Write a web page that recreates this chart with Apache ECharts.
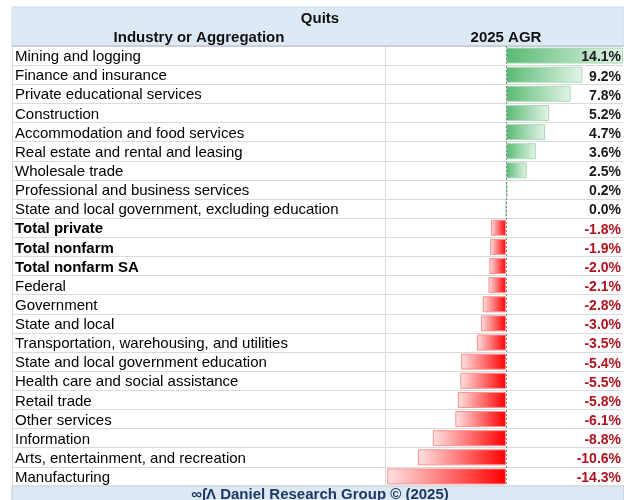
<!DOCTYPE html>
<html>
<head>
<meta charset="utf-8">
<script src="https://cdn.jsdelivr.net/npm/echarts@6/dist/echarts.min.js"></script>
<style>
  html, body { margin: 0; padding: 0; background: #fff; }
  #chart { width: 624px; height: 500px; }
</style>
</head>
<body>
<div id="chart"></div>
<script>
// industries, top to bottom
const industries = [
  'Mining and logging',
  'Finance and insurance',
  'Private educational services',
  'Construction',
  'Accommodation and food services',
  'Real estate and rental and leasing',
  'Wholesale trade',
  'Professional and business services',
  'State and local government, excluding education',
  'Total private',
  'Total nonfarm',
  'Total nonfarm SA',
  'Federal',
  'Government',
  'State and local',
  'Transportation, warehousing, and utilities',
  'State and local government education',
  'Health care and social assistance',
  'Retail trade',
  'Other services',
  'Information',
  'Arts, entertainment, and recreation',
  'Manufacturing'
]
// 2025 annual growth rate, %
const agr2025 = [14.1, 9.2, 7.8, 5.2, 4.7, 3.6, 2.5, 0.2, 0.0, -1.8, -1.9, -2.0, -2.1, -2.8, -3.0, -3.5, -5.4, -5.5, -5.8, -6.1, -8.8, -10.6, -14.3]
// rows written in bold
const boldRows = ['Total private', 'Total nonfarm', 'Total nonfarm SA']

const chart = echarts.init(document.getElementById('chart'))

const font = 'Liberation Sans, Arial, sans-serif'
const gridTop = 46
const gridHeight = 440
const gridLine = '#dadada'

// excel style data bars
const barData = agr2025.map(v => {
  const pos = v >= 0
  return {
    value: v,
    itemStyle: {
      color: new echarts.graphic.LinearGradient(0, 0, 1, 0, pos
        ? [{ offset: 0, color: '#58ba72' }, { offset: 1, color: '#e4f4e8' }]
        : [{ offset: 0, color: '#ffe3e3' }, { offset: 1, color: '#ff0000' }]),
      borderColor: pos ? '#a9dcb7' : '#ff8f8f',
      borderWidth: 1
    }
  }
})

const valStyle = { fontFamily: font, fontSize: 14, fontWeight: 'bold', padding: [4, 0, 0, 0] }

const option = {
  animation: false,
  backgroundColor: '#fff',
  graphic: [
    // header band
    { type: 'rect', shape: { x: 12, y: 7, width: 612, height: 39 }, style: { fill: '#dde9f5', stroke: '#cfdbe8', lineWidth: 1 }, z: -10 },
    // footer band
    { type: 'rect', shape: { x: 12, y: 486, width: 612, height: 16 }, style: { fill: '#dde9f5', stroke: '#b8c2cc', lineWidth: 1 }, z: -10 },
    // column separator
    { type: 'line', shape: { x1: 385.5, y1: 46, x2: 385.5, y2: 486 }, style: { stroke: gridLine, lineWidth: 1 }, z: 5 },
    { type: 'line', shape: { x1: 12, y1: 46, x2: 624, y2: 46 }, style: { stroke: '#b8c2cc', lineWidth: 1 }, z: 5 },
    {
      type: 'text', x: 320, y: 487, z: 10,
      style: { text: '∞∫Λ Daniel Research Group © (2025)', font: 'bold 15px ' + font, fill: '#1f3864', align: 'center' }
    }
  ],
  title: [
    { text: 'Quits', left: 315, top: 6, textAlign: 'center', textStyle: { fontFamily: font, fontSize: 15, fontWeight: 'bold', color: '#111' } },
    { text: 'Industry or Aggregation', left: 194, top: 25, textAlign: 'center', textStyle: { fontFamily: font, fontSize: 15, fontWeight: 'bold', color: '#111' } },
    { text: '2025 AGR', left: 501, top: 25, textAlign: 'center', textStyle: { fontFamily: font, fontSize: 15, fontWeight: 'bold', color: '#111' } }
  ],
  grid: [
    { left: 12, width: 374, top: gridTop, height: gridHeight },
    { left: 386, right: 0, top: gridTop, height: gridHeight }
  ],
  xAxis: [
    { gridIndex: 0, type: 'value', show: false, min: 0, max: 1 },
    { gridIndex: 1, type: 'value', show: false, min: -14.45, max: 14.1 }
  ],
  yAxis: [
    {
      gridIndex: 0, type: 'category', inverse: true, data: industries,
      axisLine: { show: true, lineStyle: { color: gridLine } },
      axisTick: { show: false },
      splitLine: { show: true, interval: 0, lineStyle: { color: gridLine } },
      axisLabel: {
        interval: 0, inside: true, margin: 3, align: 'left',
        verticalAlign: 'middle', lineHeight: 19, padding: [3, 0, 0, 0],
        fontFamily: font, fontSize: 15, color: '#000',
        formatter: v => boldRows.includes(v) ? '{b|' + v + '}' : v,
        rich: { b: { fontFamily: font, fontSize: 15, fontWeight: 'bold', color: '#000' } }
      }
    },
    {
      gridIndex: 1, type: 'category', inverse: true, data: industries,
      axisLine: { show: false },
      axisTick: { show: false },
      splitLine: { show: true, interval: 0, lineStyle: { color: gridLine } },
      axisLabel: { show: false }
    },
    {
      // value column on the right
      gridIndex: 1, type: 'category', inverse: true, data: industries, position: 'right',
      z: 10,
      axisLine: { show: false },
      axisTick: { show: false },
      axisLabel: {
        interval: 0, inside: true, margin: 2, align: 'right', verticalAlign: 'middle',
        formatter: (v, i) => (agr2025[i] < 0 ? '{neg|' : '{pos|') + agr2025[i].toFixed(1) + '%}',
        rich: {
          pos: Object.assign({ color: '#1a1a1a' }, valStyle),
          neg: Object.assign({ color: '#ad1420' }, valStyle)
        }
      }
    }
  ],
  series: [
    {
      type: 'bar',
      xAxisIndex: 1,
      yAxisIndex: 1,
      data: barData,
      barWidth: 16,
      clip: true,
      z: 2,
      markLine: {
        silent: true,
        symbol: 'none',
        label: { show: false },
        lineStyle: { color: '#8a8a8a', type: [2, 2], width: 1 },
        data: [{ xAxis: 0 }]
      }
    }
  ]
}

chart.setOption(option)
</script>
</body>
</html>
